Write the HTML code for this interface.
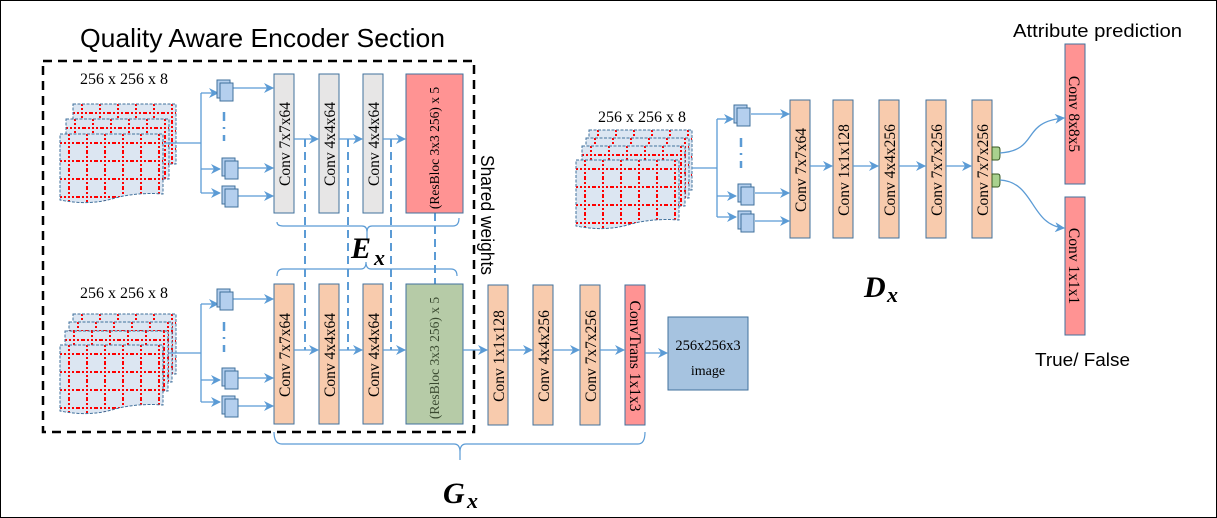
<!DOCTYPE html>
<html><head><meta charset="utf-8"><style>
html,body{margin:0;padding:0;background:#fff;}
svg{display:block;}
text{font-family:"Liberation Serif",serif;}
.s{font-family:"Liberation Sans",sans-serif;}
</style></head><body>
<svg width="1217" height="518" viewBox="0 0 1217 518" xmlns="http://www.w3.org/2000/svg">
<defs>
<pattern id="grid" x="0" y="0" width="18" height="18" patternUnits="userSpaceOnUse">
<rect width="18" height="18" fill="#dce6f2"/>
<path d="M9 0V18M0 9H18" stroke="#ff0000" stroke-width="2" stroke-dasharray="2 2"/>
</pattern>
<marker id="ar" markerWidth="10" markerHeight="10" refX="9" refY="5" orient="auto" markerUnits="userSpaceOnUse">
<path d="M0,0 L10,5 L0,10 L3,5 Z" fill="#5b9bd5"/>
</marker>
<g id="sq"><rect x="0" y="0" width="13" height="18" fill="#b4cfee" stroke="#41719c" stroke-width="1"/><rect x="3" y="3" width="13" height="18" fill="#b4cfee" stroke="#41719c" stroke-width="1"/></g>
<path id="sheet" d="M0,0 H103 V60 Q78,58 55,64 Q30,72 0,66 Z" fill="url(#grid)" stroke="#41719c" stroke-dasharray="3 1.5" stroke-width="1"/>
<rect id="bsheet" x="0" y="0" width="103" height="60" fill="url(#grid)" stroke="#41719c" stroke-dasharray="3 1.5" stroke-width="1"/>
</defs>
<rect x="0.5" y="0.5" width="1216" height="517" fill="#fff" stroke="#000" stroke-width="1"/>

<text x="80" y="47" class="s" font-size="26" font-family="Liberation Sans" textLength="365" lengthAdjust="spacingAndGlyphs">Quality Aware Encoder Section</text>
<rect x="43" y="61" width="431" height="371" fill="none" stroke="#000" stroke-width="2.5" stroke-dasharray="9 6"/>
<text transform="translate(481,155) rotate(90)" class="s" font-size="18" font-family="Liberation Sans" textLength="120" lengthAdjust="spacingAndGlyphs">Shared weights</text>

<!-- top-left stack -->
<text x="80" y="84" font-size="16">256 x 256 x 8</text>
<use href="#bsheet" x="73" y="104"/>
<use href="#bsheet" x="66" y="119"/>
<use href="#sheet" x="60" y="134"/>
<g stroke="#5b9bd5" stroke-width="1.3" fill="none">
<path d="M164,143 H201 M201,93 V193"/>
<path d="M201,93 H218" marker-end="url(#ar)"/>
<path d="M201,169 H220" marker-end="url(#ar)"/>
<path d="M201,193 H220" marker-end="url(#ar)"/>
<path d="M233,88 H273" marker-end="url(#ar)"/>
<path d="M238,168 H273" marker-end="url(#ar)"/>
<path d="M238,196 H273" marker-end="url(#ar)"/>
<path d="M224,112 V141" stroke-width="2.5" stroke-dasharray="9 6 2 6"/>
</g>
<use href="#sq" x="217" y="80"/>
<use href="#sq" x="222" y="158"/>
<use href="#sq" x="222" y="186"/>

<!-- bottom-left stack -->
<text x="80" y="298" font-size="16">256 x 256 x 8</text>
<use href="#bsheet" x="73" y="314"/>
<use href="#bsheet" x="69" y="322"/>
<use href="#bsheet" x="65" y="331"/>
<use href="#sheet" x="60" y="345"/>
<g stroke="#5b9bd5" stroke-width="1.3" fill="none">
<path d="M168,353 H201 M201,304 V402"/>
<path d="M201,304 H218" marker-end="url(#ar)"/>
<path d="M201,380 H220" marker-end="url(#ar)"/>
<path d="M201,402 H220" marker-end="url(#ar)"/>
<path d="M233,299 H273" marker-end="url(#ar)"/>
<path d="M238,378 H273" marker-end="url(#ar)"/>
<path d="M238,406 H273" marker-end="url(#ar)"/>
<path d="M224,322 V352" stroke-width="2.5" stroke-dasharray="9 6 2 6"/>
</g>
<use href="#sq" x="217" y="289"/>
<use href="#sq" x="222" y="368"/>
<use href="#sq" x="222" y="396"/>

<!-- dashed shared links -->
<g stroke="#5b9bd5" stroke-width="2" stroke-dasharray="8 5" fill="none">
<path d="M305,139 V350"/><path d="M348,139 V350"/><path d="M391,139 V350"/><path d="M435,213 V284"/>
</g>

<!-- top row boxes -->
<g stroke="#41719c" stroke-width="1">
<rect x="274" y="74" width="20" height="139" fill="#e7e6e6"/>
<rect x="319" y="74" width="20" height="139" fill="#e7e6e6"/>
<rect x="363" y="74" width="20" height="139" fill="#e7e6e6"/>
<rect x="406" y="74" width="57" height="139" fill="#ff9393"/>
</g>
<g stroke="#5b9bd5" stroke-width="1.3" fill="none">
<path d="M294,139 H318" marker-end="url(#ar)"/>
<path d="M339,139 H362" marker-end="url(#ar)"/>
<path d="M383,139 H405" marker-end="url(#ar)"/>
</g>
<g font-size="15.5">
<text transform="translate(290,144) rotate(-90)" text-anchor="middle">Conv 7x7x64</text>
<text transform="translate(335,144) rotate(-90)" text-anchor="middle">Conv 4x4x64</text>
<text transform="translate(379,144) rotate(-90)" text-anchor="middle">Conv 4x4x64</text>
<text transform="translate(439,148) rotate(-90)" text-anchor="middle" font-size="13.5">(ResBloc 3x3 256) x 5</text>
</g>

<!-- braces -->
<g stroke="#5b9bd5" stroke-width="1.2" fill="none">
<path d="M277,222 Q277,226 283,226 H362 Q367,226 367,232 Q367,226 372,226 H453 Q459,226 459,218"/>
<path d="M367,232 V240"/>
<path d="M277,276 Q277,269 283,269 H361 Q366,269 366,262 Q366,269 371,269 H451 Q457,269 457,276"/>
<path d="M274,432 Q274,444 282,444 H454 Q460,444 460,452 Q460,444 466,444 H638 Q645,444 645,432"/>
<path d="M460,452 V460"/>
</g>
<text x="351" y="258" font-size="30" font-weight="bold" font-style="italic">E</text>
<text x="374" y="265" font-size="22" font-weight="bold" font-style="italic">x</text>
<text x="443" y="503" font-size="30" font-weight="bold" font-style="italic">G</text>
<text x="467" y="508" font-size="22" font-weight="bold" font-style="italic">x</text>
<text x="864" y="297" font-size="30" font-weight="bold" font-style="italic">D</text>
<text x="887" y="302" font-size="22" font-weight="bold" font-style="italic">x</text>

<!-- bottom row -->
<g stroke="#41719c" stroke-width="1">
<rect x="274" y="284" width="20" height="140" fill="#f8cbad"/>
<rect x="319" y="284" width="20" height="140" fill="#f8cbad"/>
<rect x="363" y="284" width="20" height="140" fill="#f8cbad"/>
<rect x="406" y="284" width="57" height="140" fill="#b6cba7"/>
<rect x="488" y="285" width="20" height="140" fill="#f8cbad"/>
<rect x="533" y="285" width="20" height="140" fill="#f8cbad"/>
<rect x="580" y="285" width="20" height="140" fill="#f8cbad"/>
<rect x="625" y="285" width="20" height="140" fill="#ff9393"/>
<rect x="668" y="317" width="80" height="73" fill="#a6c3e0"/>
</g>
<g stroke="#5b9bd5" stroke-width="1.3" fill="none">
<path d="M294,350 H318" marker-end="url(#ar)"/>
<path d="M339,350 H362" marker-end="url(#ar)"/>
<path d="M383,350 H405" marker-end="url(#ar)"/>
<path d="M463,350 H487" marker-end="url(#ar)"/>
<path d="M508,350 H532" marker-end="url(#ar)"/>
<path d="M553,350 H579" marker-end="url(#ar)"/>
<path d="M600,350 H624" marker-end="url(#ar)"/>
<path d="M645,353 H667" marker-end="url(#ar)"/>
</g>
<g font-size="15.5">
<text transform="translate(290,355) rotate(-90)" text-anchor="middle">Conv 7x7x64</text>
<text transform="translate(335,355) rotate(-90)" text-anchor="middle">Conv 4x4x64</text>
<text transform="translate(379,355) rotate(-90)" text-anchor="middle">Conv 4x4x64</text>
<text transform="translate(439,358) rotate(-90)" text-anchor="middle" font-size="13.5" fill="#3a4a30">(ResBloc 3x3 256) x 5</text>
<text transform="translate(504,356) rotate(-90)" text-anchor="middle">Conv 1x1x128</text>
<text transform="translate(549,356) rotate(-90)" text-anchor="middle">Conv 4x4x256</text>
<text transform="translate(596,356) rotate(-90)" text-anchor="middle">Conv 7x7x256</text>
<text transform="translate(630,356) rotate(90)" text-anchor="middle">ConvTrans 1x1x3</text>
<text x="708" y="350" text-anchor="middle" font-size="14.5">256x256x3</text>
<text x="708" y="375" text-anchor="middle" font-size="14">image</text>
</g>

<!-- right stack -->
<text x="598" y="122" font-size="16">256 x 256 x 8</text>
<use href="#bsheet" x="589" y="130"/>
<use href="#bsheet" x="586" y="138"/>
<use href="#bsheet" x="582" y="146"/>
<use href="#sheet" x="576" y="160"/>
<g stroke="#5b9bd5" stroke-width="1.3" fill="none">
<path d="M692,168 H717 M717,119 V217"/>
<path d="M717,119 H733" marker-end="url(#ar)"/>
<path d="M717,196 H736" marker-end="url(#ar)"/>
<path d="M717,217 H736" marker-end="url(#ar)"/>
<path d="M751,114 H789" marker-end="url(#ar)"/>
<path d="M755,193 H789" marker-end="url(#ar)"/>
<path d="M755,221 H789" marker-end="url(#ar)"/>
<path d="M741,138 V168" stroke-width="2.5" stroke-dasharray="9 6 2 6"/>
</g>
<use href="#sq" x="734" y="105"/>
<use href="#sq" x="738" y="184"/>
<use href="#sq" x="738" y="211"/>

<g stroke="#41719c" stroke-width="1">
<rect x="790" y="100" width="20" height="138" fill="#f8cbad"/>
<rect x="833" y="100" width="20" height="138" fill="#f8cbad"/>
<rect x="879" y="100" width="20" height="138" fill="#f8cbad"/>
<rect x="926" y="100" width="20" height="138" fill="#f8cbad"/>
<rect x="972" y="100" width="20" height="138" fill="#f8cbad"/>
<rect x="1065" y="44" width="20" height="140" fill="#ff9393"/>
<rect x="1065" y="197" width="20" height="138" fill="#ff9393"/>
</g>
<g stroke="#385723" stroke-width="1" fill="#a9d18e">
<path d="M992,147 H998 Q1000,147 1000,150 V155 Q1000,160 998,160 H992 Z"/>
<path d="M992,174 H998 Q1000,174 1000,177 V182 Q1000,187 998,187 H992 Z"/>
</g>
<g stroke="#5b9bd5" stroke-width="1.3" fill="none">
<path d="M810,166 H832" marker-end="url(#ar)"/>
<path d="M853,166 H878" marker-end="url(#ar)"/>
<path d="M899,166 H925" marker-end="url(#ar)"/>
<path d="M946,166 H971" marker-end="url(#ar)"/>
<path d="M1000,153 C1040,150 1020,122 1064,118" marker-end="url(#ar)"/>
<path d="M1000,180 C1035,182 1030,225 1064,228" marker-end="url(#ar)"/>
</g>
<g font-size="15.5">
<text transform="translate(806,170) rotate(-90)" text-anchor="middle">Conv 7x7x64</text>
<text transform="translate(849,170) rotate(-90)" text-anchor="middle">Conv 1x1x128</text>
<text transform="translate(895,170) rotate(-90)" text-anchor="middle">Conv 4x4x256</text>
<text transform="translate(942,170) rotate(-90)" text-anchor="middle">Conv 7x7x256</text>
<text transform="translate(988,170) rotate(-90)" text-anchor="middle">Conv 7x7x256</text>
<text transform="translate(1069,114) rotate(90)" text-anchor="middle">Conv  8x8x5</text>
<text transform="translate(1069,266) rotate(90)" text-anchor="middle">Conv  1x1x1</text>
</g>
<text x="1013" y="37" font-size="18" font-family="Liberation Sans" class="s" textLength="169" lengthAdjust="spacingAndGlyphs">Attribute prediction</text>
<text x="1035" y="366" font-size="18" font-family="Liberation Sans" class="s" textLength="95" lengthAdjust="spacingAndGlyphs">True/ False</text>
</svg>
</body></html>
